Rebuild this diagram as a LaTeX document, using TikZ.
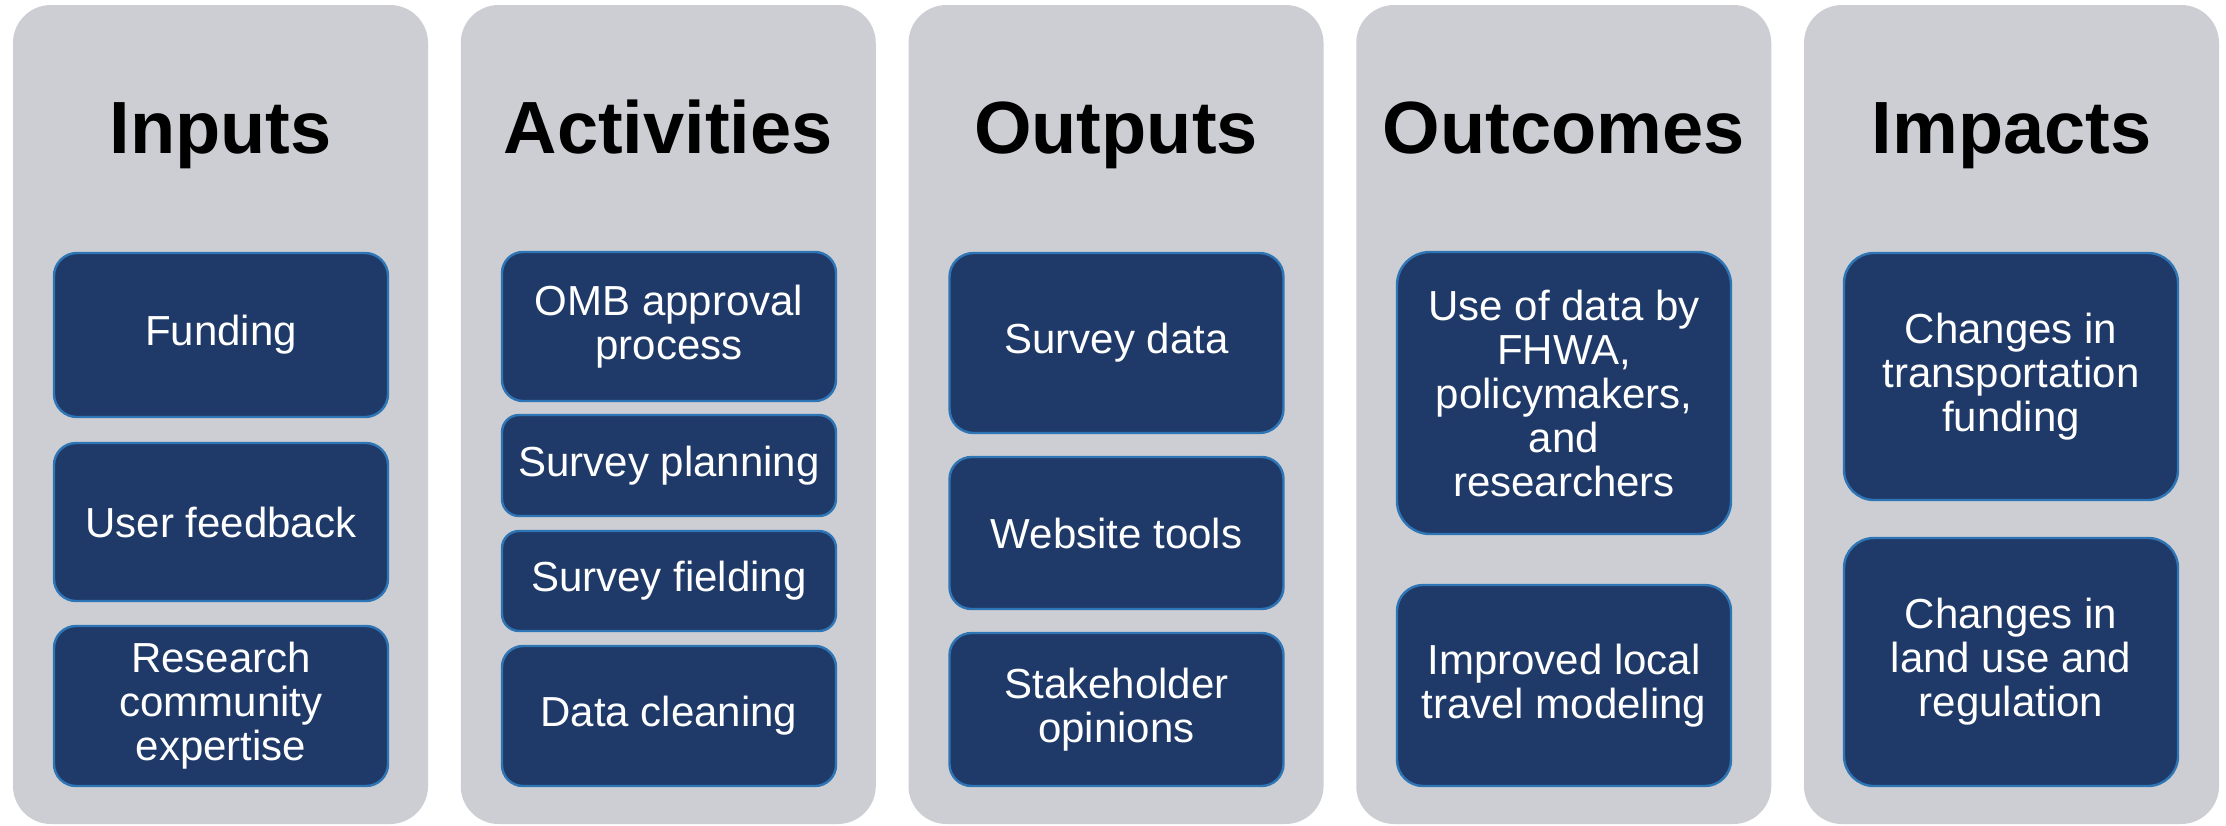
\documentclass[tikz,border=0pt]{standalone}
\usepackage{fontspec}
\setmainfont{Liberation Sans}
\definecolor{panelgray}{HTML}{CDCED3}
\definecolor{navy}{HTML}{1F3A68}
\definecolor{bxline}{HTML}{2E75B6}
\begin{document}
\begin{tikzpicture}[x=0.5pt,y=-0.5pt,
  panel/.style={fill=panelgray, draw=none, rounded corners=19pt, minimum width=207.5pt, minimum height=409.5pt, inner sep=0pt},
  coltitle/.style={anchor=base, font=\fontsize{37}{40}\selectfont\bfseries, text=black, inner sep=0pt},
  bx/.style={draw=bxline, fill=navy, line width=1.2pt, text=white, align=center, minimum width=167pt, inner sep=0pt, font=\fontsize{21}{22}\selectfont}]
\useasboundingbox (0,0) rectangle (2226,825);
\fill[white] (0,0) rectangle (2226,825);
% panels
\node[panel] (pIn)  at (220.5,414.5) {};
\node[panel] (pAct) at (668.25,414.5) {};
\node[panel] (pOut) at (1116,414.5) {};
\node[panel] (pOc)  at (1563.75,414.5) {};
\node[panel] (pIm)  at (2011.5,414.5) {};
% titles
\node[coltitle] (tIn)  at (220.5,153) {Inputs};
\node[coltitle] (tAct) at (668.25,153) {Activities};
\node[coltitle] (tOut) at (1116,153) {Outputs};
\node[coltitle] (tOc)  at (1563.75,153) {Outcomes};
\node[coltitle] (tIm)  at (2011.5,153) {Impacts};
% Inputs
\node[bx, minimum height=82pt, rounded corners=11.5pt] (fund) at (221,335) {Funding};
\node[bx, minimum height=79pt, rounded corners=11pt] (user) at (221,522) {User feedback};
\node[bx, minimum height=80pt, rounded corners=11pt] (res) at (221,706) {Research\\community\\expertise};
% Activities
\node[bx, minimum height=74.5pt, rounded corners=10.5pt] (omb) at (669,326.5) {OMB approval\\process};
\node[bx, minimum height=50.5pt, rounded corners=8.5pt] (plan) at (669,465.5) {Survey planning};
\node[bx, minimum height=50pt, rounded corners=8.5pt] (field) at (669,581) {Survey fielding};
\node[bx, minimum height=70pt, rounded corners=10.5pt] (clean) at (669,716) {Data cleaning};
% Outputs
\node[bx, minimum height=90pt, rounded corners=12pt] (sdata) at (1116.5,343) {Survey data};
\node[bx, minimum height=76pt, rounded corners=11pt] (web) at (1116.5,533) {Website tools};
\node[bx, minimum height=76.5pt, rounded corners=11pt] (stake) at (1116.5,709.5) {Stakeholder\\opinions};
% Outcomes
\node[bx, minimum height=141pt, rounded corners=16.5pt] (use) at (1564,393) {Use of data by\\FHWA,\\policymakers,\\and\\researchers};
\node[bx, minimum height=100.5pt, rounded corners=13pt] (impr) at (1564,685.5) {Improved local\\travel modeling};
% Impacts
\node[bx, minimum height=123.5pt, rounded corners=15pt] (ctrans) at (2011,376.5) {Changes in\\transportation\\funding};
\node[bx, minimum height=124pt, rounded corners=15pt] (cland) at (2011,662) {Changes in\\land use and\\regulation};
\end{tikzpicture}
\end{document}
